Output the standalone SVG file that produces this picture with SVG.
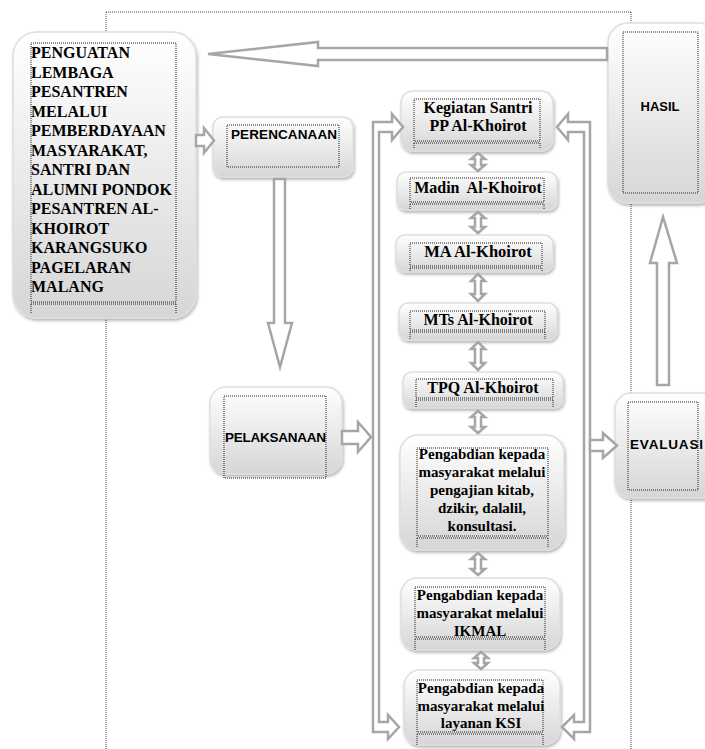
<svg xmlns="http://www.w3.org/2000/svg" width="705" height="749" viewBox="0 0 705 749">
<defs>
<linearGradient id="g" x1="0" y1="0" x2="0" y2="1">
<stop offset="0" stop-color="#ffffff"/>
<stop offset="1" stop-color="#d6d6d6"/>
</linearGradient>
<filter id="sh" x="-10%" y="-10%" width="130%" height="130%">
<feDropShadow dx="1" dy="2" stdDeviation="1.5" flood-color="#000" flood-opacity="0.3"/>
</filter>
<style>
.box{fill:url(#g);stroke:#dedede;stroke-width:1.5;filter:url(#sh)}
.dot{fill:none;stroke:#222;stroke-width:1;stroke-dasharray:1 1}
.frame{fill:none;stroke:#444;stroke-width:1;stroke-dasharray:1 1}
.arr{fill:#fff;stroke:#a6a6a6;stroke-width:2.5;stroke-linejoin:miter}
.sarr{fill:#fff;stroke:#a6a6a6;stroke-width:2.5}
.serif{font-family:"Liberation Serif","Times New Roman",serif;font-weight:bold;fill:#000}
.sans{font-family:"Liberation Sans",Arial,sans-serif;font-weight:bold;fill:#000}
.c{text-anchor:middle}
</style>
</defs>
<rect width="705" height="749" fill="#fff"/>
<g id="frame">
<path class="frame" d="M106,12H631M106,12V749M631,12V749"/>
</g>
<g id="n-penguatan">
<rect class="box" x="13" y="32" width="183" height="286" rx="24"/>
<path class="dot" d="M31,43H176V302H31ZM31,304H176M31,304V313M176,304V313"/>
<text class="serif" font-size="16" x="31">
<tspan x="31" y="58">PENGUATAN</tspan>
<tspan x="31" y="77.5">LEMBAGA</tspan>
<tspan x="31" y="97">PESANTREN</tspan>
<tspan x="31" y="116.5">MELALUI</tspan>
<tspan x="31" y="136">PEMBERDAYAAN</tspan>
<tspan x="31" y="155.5">MASYARAKAT,</tspan>
<tspan x="31" y="175">SANTRI DAN</tspan>
<tspan x="31" y="194.5">ALUMNI PONDOK</tspan>
<tspan x="31" y="214">PESANTREN AL-</tspan>
<tspan x="31" y="233.5">KHOIROT</tspan>
<tspan x="31" y="253">KARANGSUKO</tspan>
<tspan x="31" y="272.5">PAGELARAN</tspan>
<tspan x="31" y="292">MALANG</tspan>
</text>
</g>
<g id="n-perencanaan">
<rect class="box" x="213" y="117" width="140" height="60" rx="10"/>
<path class="dot" d="M227,125H339V167H227Z"/>
<text class="sans" font-size="13.5" x="231" y="139" textLength="106">PERENCANAAN</text>
</g>
<g id="n-pelaksanaan">
<rect class="box" x="210" y="387" width="132" height="87" rx="16"/>
<path class="dot" d="M224,396H326V478H224Z"/>
<text class="sans" font-size="13.5" x="225" y="442" textLength="101">PELAKSANAAN</text>
</g>
<g id="n-hasil">
<rect class="box" x="608" y="23" width="110" height="180" rx="20"/>
<path class="dot" d="M623,32H698V193H623Z"/>
<text class="sans c" font-size="13" x="660" y="111">HASIL</text>
</g>
<g id="n-evaluasi">
<rect class="box" x="615" y="393" width="105" height="105" rx="16"/>
<path class="dot" d="M628,402H698V490H628Z"/>
<text class="sans" font-size="13.5" x="630" y="449" textLength="73">EVALUASI</text>
</g>
<g id="n-kegiatan">
<rect class="box" x="401" y="91" width="152" height="60" rx="12"/>
<path class="dot" d="M414,99H540V141H414ZM414,143H540M414,143V149M540,143V149"/>
<text class="serif c" font-size="16" x="478"><tspan x="478" y="113">Kegiatan Santri</tspan><tspan x="478" y="131">PP Al-Khoirot</tspan></text>
</g>
<g id="n-madin">
<rect class="box" x="397" y="172" width="160" height="38" rx="9"/>
<path class="dot" d="M410,178H544V202H410ZM410,204H544M410,204V210M544,204V210"/>
<text class="serif c" font-size="16" x="478" y="193" xml:space="preserve">Madin  Al-Khoirot</text>
</g>
<g id="n-ma">
<rect class="box" x="396" y="235" width="157" height="37" rx="9"/>
<path class="dot" d="M410,243H542V266H410ZM410,268H542M410,268V272M542,268V272"/>
<text class="serif c" font-size="16.5" x="478" y="257">MA Al-Khoirot</text>
</g>
<g id="n-mts">
<rect class="box" x="399" y="303" width="158" height="37" rx="9"/>
<path class="dot" d="M410,311H545V330H410ZM410,332H545M410,332V340M545,332V340"/>
<text class="serif c" font-size="16" x="478" y="325">MTs Al-Khoirot</text>
</g>
<g id="n-tpq">
<rect class="box" x="403" y="372" width="160" height="36" rx="9"/>
<path class="dot" d="M416,379H553V398H416ZM416,400H553M416,400V408M553,400V408"/>
<text class="serif c" font-size="16" x="483" y="393">TPQ Al-Khoirot</text>
</g>
<g id="n-pengabdian1">
<rect class="box" x="400" y="435" width="164" height="115" rx="18"/>
<path class="dot" d="M417,448H548V536H417ZM417,538H548M417,538V547M548,538V547"/>
<text class="serif c" font-size="15" x="482"><tspan x="482" y="459">Pengabdian kepada</tspan><tspan x="482" y="477">masyarakat melalui</tspan><tspan x="482" y="495">pengajian kitab,</tspan><tspan x="482" y="513">dzikir, dalalil,</tspan><tspan x="482" y="531">konsultasi.</tspan></text>
</g>
<g id="n-pengabdian2">
<rect class="box" x="401" y="578" width="159" height="72" rx="16"/>
<path class="dot" d="M415,587H545V637H415ZM415,639H545M415,639V650M545,639V650"/>
<text class="serif c" font-size="15" x="480"><tspan x="480" y="600">Pengabdian kepada</tspan><tspan x="480" y="618">masyarakat melalui</tspan><tspan x="480" y="636">IKMAL</tspan></text>
</g>
<g id="n-pengabdian3">
<rect class="box" x="404" y="670" width="156" height="75" rx="16"/>
<path class="dot" d="M417,680H543V732H417ZM417,734H543M417,734V745M543,734V745"/>
<text class="serif c" font-size="15" x="481"><tspan x="481" y="693">Pengabdian kepada</tspan><tspan x="481" y="711">masyarakat melalui</tspan><tspan x="481" y="728">layanan KSI</tspan></text>
</g>
<g id="connectors">
<path class="arr" d="M607,48L318,48L318,42L208,54L318,66L318,60L607,60Z"/>
<path class="arr" d="M196,135L204,135L204,128L214,140.5L204,153L204,146L196,146Z"/>
<path class="arr" d="M274,179L285,179L285,323L292,323L280,367L268,323L274,323Z"/>
<path class="arr" d="M342,431L358,431L358,422L371,437L358,452L358,444L342,444Z"/>
<path class="arr" d="M373,122L392,122L392,114L403,127L392,140L392,132L379,132L379,722L388,722L388,715L399,727L388,739L388,732L373,732Z"/>
<path class="arr" d="M590,122L568,122L568,114L557,127L568,140L568,132L584,132L584,722L574,722L574,715L562,727L574,739L574,732L590,732Z"/>
<path class="arr" d="M590,440L603,440L603,433L617,445.5L603,458L603,451L590,451Z"/>
<path class="arr" d="M657,385L669,385L669,263L677,263L663,217L650,263L657,263Z"/>
<path class="sarr" d="M478,153L485,159L481,159L481,165L485,165L478,171L471,165L475,165L475,159L471,159Z"/>
<path class="sarr" d="M478,212L485,218L481,218L481,227L485,227L478,233L471,227L475,227L475,218L471,218Z"/>
<path class="sarr" d="M478,274L485,281L481,281L481,294L485,294L478,301L471,294L475,294L475,281L471,281Z"/>
<path class="sarr" d="M478,342L485,349L481,349L481,363L485,363L478,370L471,363L475,363L475,349L471,349Z"/>
<path class="sarr" d="M478,411L485,417L481,417L481,427L485,427L478,433L471,427L475,427L475,417L471,417Z"/>
<path class="sarr" d="M478,553L485,559L481,559L481,569L485,569L478,575L471,569L475,569L475,559L471,559Z"/>
<path class="sarr" d="M481,652L488,658L484,658L484,663L488,663L481,669L474,663L478,663L478,658L474,658Z"/>
</g>
</svg>
